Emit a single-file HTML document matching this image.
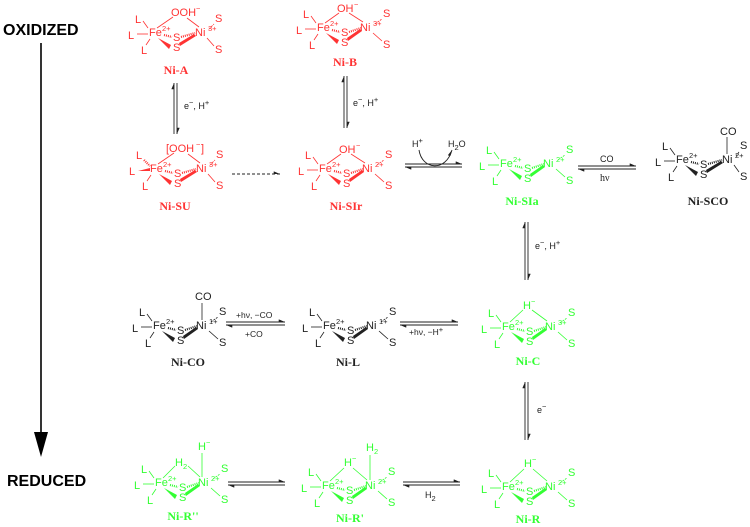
<!DOCTYPE html>
<html><head><meta charset="utf-8"><style>
html,body{margin:0;padding:0;background:#fff;}
svg{display:block;}
text{font-family:"Liberation Sans",sans-serif;font-size:11px;stroke:none;}
.sup{font-size:7.5px;}
.lbl{font-family:"Liberation Serif",serif;font-weight:bold;font-size:12px;text-anchor:middle;}
.t{fill:#222;font-size:9px;}
.h{stroke-dasharray:1 1;stroke-width:2.2;fill:none;}
.ln{stroke-width:0.8;fill:none;}
</style></head><body>
<svg width="750" height="527" viewBox="0 0 750 527" xmlns="http://www.w3.org/2000/svg">
<defs>
<marker id="ha" markerWidth="8" markerHeight="4" refX="7" refY="3" orient="auto"><path d="M0,0 L7,3 L0,3Z" fill="#222"/></marker>
</defs>

<text x="3" y="35" style="font-weight:bold;font-size:16px;fill:#000">OXIDIZED</text>
<text x="7" y="486" style="font-weight:bold;font-size:16px;fill:#000">REDUCED</text>
<line x1="41" y1="43" x2="41" y2="440" stroke="#000" stroke-width="1.6"/>
<path d="M34,432 L48,432 L41,457Z" fill="#000"/>

<!-- Ni-A -->
<g transform="translate(149,36)" fill="#ff3333" stroke="#ff3333">
<text x="-14" y="-13">L</text><line class="ln" x1="-6" y1="-15" x2="-1" y2="-8"/>
<text x="-21" y="3">L</text><line class="ln" x1="-12" y1="-2" x2="-1" y2="-2"/>
<text x="-8" y="18">L</text><line class="ln" x1="-3" y1="9" x2="1" y2="3"/>
<text x="0" y="0">Fe</text><text class="sup" x="13" y="-5">2+</text>
<polygon points="9,2 22,9 20,13" stroke="none"/>
<line class="h" x1="15" y1="-1" x2="23" y2="1"/>
<text x="24" y="5">S</text><text x="24" y="15">S</text>
<line class="h" x1="32" y1="1" x2="46" y2="-3"/>
<polygon points="31,10 47,0 45,-2 30,7" stroke="none"/>
<text x="46" y="0">Ni</text><text class="sup" x="59" y="-5">3+</text>
<text x="66" y="-14">S</text><line class="ln" x1="60" y1="-7" x2="65" y2="-12" stroke-dasharray="2 1"/>
<text x="66" y="17">S</text><line class="ln" x1="58" y1="2" x2="65" y2="10"/>
<text x="22" y="-20">OOH</text><text class="sup" x="47" y="-25">−</text>
<line class="ln" x1="8" y1="-8" x2="24" y2="-19"/><line class="ln" x1="38" y1="-18" x2="50" y2="-9"/>
<text class="lbl" x="27" y="38">Ni-A</text>
</g>

<!-- Ni-B -->
<g transform="translate(317,31)" fill="#ff3333" stroke="#ff3333">
<text x="-14" y="-13">L</text><line class="ln" x1="-6" y1="-15" x2="-1" y2="-8"/>
<text x="-21" y="3">L</text><line class="ln" x1="-12" y1="-2" x2="-1" y2="-2"/>
<text x="-8" y="18">L</text><line class="ln" x1="-3" y1="9" x2="1" y2="3"/>
<text x="0" y="0">Fe</text><text class="sup" x="13" y="-5">2+</text>
<polygon points="9,2 22,9 20,13" stroke="none"/>
<line class="h" x1="15" y1="-1" x2="23" y2="1"/>
<text x="24" y="5">S</text><text x="24" y="15">S</text>
<line class="h" x1="32" y1="1" x2="44" y2="-3"/>
<polygon points="31,10 45,0 43,-2 30,7" stroke="none"/>
<text x="43" y="0">Ni</text><text class="sup" x="56" y="-5">3+</text>
<text x="66" y="-14">S</text><line class="ln" x1="58" y1="-7" x2="65" y2="-12" stroke-dasharray="2 1"/>
<text x="66" y="17">S</text><line class="ln" x1="56" y1="2" x2="65" y2="10"/>
<text x="20" y="-19">OH</text><text class="sup" x="37" y="-24">−</text>
<line class="ln" x1="8" y1="-8" x2="22" y2="-18"/><line class="ln" x1="32" y1="-18" x2="46" y2="-9"/>
<text class="lbl" x="28" y="35">Ni-B</text>
</g>

<!-- Ni-SU -->
<g transform="translate(150,172)" fill="#ff3333" stroke="#ff3333">
<text x="-14" y="-13">L</text><line class="h" x1="-6" y1="-12" x2="0" y2="-6"/>
<text x="-21" y="3">L</text><polygon points="-12,-1 0,-4 0,-1" stroke="none"/>
<text x="-8" y="18">L</text><line class="ln" x1="-3" y1="9" x2="1" y2="3"/>
<text x="0" y="0">Fe</text><text class="sup" x="13" y="-5">2+</text>
<polygon points="9,2 22,9 20,13" stroke="none"/>
<line class="h" x1="15" y1="-1" x2="23" y2="1"/>
<text x="24" y="5">S</text><text x="24" y="15">S</text>
<line class="h" x1="32" y1="1" x2="46" y2="-3"/>
<polygon points="31,10 47,0 45,-2 30,7" stroke="none"/>
<text x="46" y="0">Ni</text><text class="sup" x="59" y="-5">3+</text>
<text x="66" y="-14">S</text><line class="ln" x1="60" y1="-7" x2="65" y2="-12" stroke-dasharray="2 1"/>
<text x="66" y="17">S</text><line class="ln" x1="58" y1="2" x2="65" y2="10"/>
<text x="16" y="-20">[OOH</text><text class="sup" x="46" y="-25">−</text><text x="51" y="-20">]</text>
<line class="ln" x1="8" y1="-8" x2="24" y2="-19"/><line class="ln" x1="38" y1="-18" x2="50" y2="-9"/>
<text class="lbl" x="25" y="38">Ni-SU</text>
</g>

<!-- Ni-SIr -->
<g transform="translate(319,172)" fill="#ff3333" stroke="#ff3333">
<text x="-14" y="-13">L</text><line class="ln" x1="-6" y1="-15" x2="-1" y2="-8"/>
<text x="-21" y="3">L</text><line class="ln" x1="-12" y1="-2" x2="-1" y2="-2"/>
<text x="-8" y="18">L</text><line class="ln" x1="-3" y1="9" x2="1" y2="3"/>
<text x="0" y="0">Fe</text><text class="sup" x="13" y="-5">2+</text>
<polygon points="9,2 22,9 20,13" stroke="none"/>
<line class="h" x1="15" y1="-1" x2="23" y2="1"/>
<text x="24" y="5">S</text><text x="24" y="15">S</text>
<line class="h" x1="32" y1="1" x2="44" y2="-3"/>
<polygon points="31,10 45,0 43,-2 30,7" stroke="none"/>
<text x="43" y="0">Ni</text><text class="sup" x="56" y="-5">2+</text>
<text x="66" y="-14">S</text><line class="ln" x1="58" y1="-7" x2="65" y2="-12" stroke-dasharray="2 1"/>
<text x="66" y="17">S</text><line class="ln" x1="56" y1="2" x2="65" y2="10"/>
<text x="20" y="-19">OH</text><text class="sup" x="37" y="-24">−</text>
<line class="ln" x1="8" y1="-8" x2="22" y2="-18"/><line class="ln" x1="32" y1="-18" x2="46" y2="-9"/>
<text class="lbl" x="27" y="38">Ni-SIr</text>
</g>

<!-- Ni-SIa -->
<g transform="translate(500,167)" fill="#33ff33" stroke="#33ff33">
<text x="-14" y="-13">L</text><line class="ln" x1="-6" y1="-15" x2="-1" y2="-8"/>
<text x="-21" y="3">L</text><line class="ln" x1="-12" y1="-2" x2="-1" y2="-2"/>
<text x="-8" y="18">L</text><line class="ln" x1="-3" y1="9" x2="1" y2="3"/>
<text x="0" y="0">Fe</text><text class="sup" x="13" y="-5">2+</text>
<polygon points="9,2 22,9 20,13" stroke="none"/>
<line class="h" x1="15" y1="-1" x2="23" y2="1"/>
<text x="24" y="5">S</text><text x="24" y="15">S</text>
<line class="h" x1="32" y1="1" x2="44" y2="-3"/>
<polygon points="31,10 45,0 43,-2 30,7" stroke="none"/>
<text x="43" y="0">Ni</text><text class="sup" x="56" y="-5">2+</text>
<text x="66" y="-14">S</text><line class="ln" x1="58" y1="-7" x2="65" y2="-12" stroke-dasharray="2 1"/>
<text x="66" y="17">S</text><line class="ln" x1="56" y1="2" x2="65" y2="10"/>
<text class="lbl" x="22" y="38">Ni-SIa</text>
</g>

<!-- Ni-SCO -->
<g transform="translate(676,163)" fill="#222" stroke="#222">
<text x="-14" y="-13">L</text><line class="ln" x1="-6" y1="-15" x2="-1" y2="-8"/>
<text x="-21" y="3">L</text><line class="ln" x1="-12" y1="-2" x2="-1" y2="-2"/>
<text x="-8" y="18">L</text><line class="ln" x1="-3" y1="9" x2="1" y2="3"/>
<text x="0" y="0">Fe</text><text class="sup" x="13" y="-5">2+</text>
<polygon points="9,2 22,9 20,13" stroke="none"/>
<line class="h" x1="15" y1="-1" x2="23" y2="1"/>
<text x="24" y="5">S</text><text x="24" y="15">S</text>
<line class="h" x1="32" y1="1" x2="46" y2="-3"/>
<polygon points="31,10 47,0 45,-2 30,7" stroke="none"/>
<text x="46" y="0">Ni</text><text class="sup" x="59" y="-5">2+</text>
<text x="64" y="-14">S</text><line class="ln" x1="60" y1="-7" x2="63" y2="-11" stroke-dasharray="2 1"/>
<text x="64" y="17">S</text><line class="ln" x1="58" y1="2" x2="63" y2="9"/>
<text x="44" y="-28">CO</text><line class="ln" x1="51" y1="-26" x2="51" y2="-9"/>
<text class="lbl" x="32" y="42">Ni-SCO</text>
</g>

<!-- Ni-CO -->
<g transform="translate(153,329)" fill="#222" stroke="#222">
<text x="-14" y="-13">L</text><line class="ln" x1="-6" y1="-15" x2="-1" y2="-8"/>
<text x="-21" y="3">L</text><line class="ln" x1="-12" y1="-2" x2="-1" y2="-2"/>
<text x="-8" y="18">L</text><line class="ln" x1="-3" y1="9" x2="1" y2="3"/>
<text x="0" y="0">Fe</text><text class="sup" x="13" y="-5">2+</text>
<polygon points="9,2 22,9 20,13" stroke="none"/>
<line class="h" x1="15" y1="-1" x2="23" y2="1"/>
<text x="24" y="5">S</text><text x="24" y="15">S</text>
<line class="h" x1="32" y1="1" x2="44" y2="-3"/>
<polygon points="31,10 45,0 43,-2 30,7" stroke="none"/>
<text x="43" y="0">Ni</text><text class="sup" x="56" y="-5">1+</text>
<text x="66" y="-14">S</text><line class="ln" x1="58" y1="-7" x2="65" y2="-12" stroke-dasharray="2 1"/>
<text x="66" y="17">S</text><line class="ln" x1="56" y1="2" x2="65" y2="10"/>
<text x="42" y="-29">CO</text><line class="ln" x1="49" y1="-26" x2="49" y2="-9"/>
<text class="lbl" x="35" y="37">Ni-CO</text>
</g>

<!-- Ni-L -->
<g transform="translate(323,329)" fill="#222" stroke="#222">
<text x="-14" y="-13">L</text><line class="ln" x1="-6" y1="-15" x2="-1" y2="-8"/>
<text x="-21" y="3">L</text><line class="ln" x1="-12" y1="-2" x2="-1" y2="-2"/>
<text x="-8" y="18">L</text><line class="ln" x1="-3" y1="9" x2="1" y2="3"/>
<text x="0" y="0">Fe</text><text class="sup" x="13" y="-5">2+</text>
<polygon points="9,2 22,9 20,13" stroke="none"/>
<line class="h" x1="15" y1="-1" x2="23" y2="1"/>
<text x="24" y="5">S</text><text x="24" y="15">S</text>
<line class="h" x1="32" y1="1" x2="44" y2="-3"/>
<polygon points="31,10 45,0 43,-2 30,7" stroke="none"/>
<text x="43" y="0">Ni</text><text class="sup" x="56" y="-5">1+</text>
<text x="66" y="-14">S</text><line class="ln" x1="58" y1="-7" x2="65" y2="-12" stroke-dasharray="2 1"/>
<text x="66" y="17">S</text><line class="ln" x1="56" y1="2" x2="65" y2="10"/>
<text class="lbl" x="25" y="37">Ni-L</text>
</g>

<!-- Ni-C -->
<g transform="translate(502,330)" fill="#33ff33" stroke="#33ff33">
<text x="-14" y="-13">L</text><line class="ln" x1="-6" y1="-15" x2="-1" y2="-8"/>
<text x="-21" y="3">L</text><line class="ln" x1="-12" y1="-2" x2="-1" y2="-2"/>
<text x="-8" y="18">L</text><line class="ln" x1="-3" y1="9" x2="1" y2="3"/>
<text x="0" y="0">Fe</text><text class="sup" x="13" y="-5">2+</text>
<polygon points="9,2 22,9 20,13" stroke="none"/>
<line class="h" x1="15" y1="-1" x2="23" y2="1"/>
<text x="24" y="5">S</text><text x="24" y="15">S</text>
<line class="h" x1="32" y1="1" x2="44" y2="-3"/>
<polygon points="31,10 45,0 43,-2 30,7" stroke="none"/>
<text x="43" y="0">Ni</text><text class="sup" x="56" y="-5">3+</text>
<text x="66" y="-14">S</text><line class="ln" x1="58" y1="-7" x2="65" y2="-12" stroke-dasharray="2 1"/>
<text x="66" y="17">S</text><line class="ln" x1="56" y1="2" x2="65" y2="10"/>
<text x="21" y="-21">H</text><text class="sup" x="29" y="-26">−</text>
<line class="ln" x1="8" y1="-8" x2="21" y2="-20"/><line class="ln" x1="30" y1="-20" x2="45" y2="-9"/>
<text class="lbl" x="26" y="35">Ni-C</text>
</g>

<!-- Ni-R'' -->
<g transform="translate(155,486)" fill="#33ff33" stroke="#33ff33">
<text x="-14" y="-13">L</text><line class="ln" x1="-6" y1="-15" x2="-1" y2="-8"/>
<text x="-21" y="3">L</text><line class="ln" x1="-12" y1="-2" x2="-1" y2="-2"/>
<text x="-8" y="18">L</text><line class="ln" x1="-3" y1="9" x2="1" y2="3"/>
<text x="0" y="0">Fe</text><text class="sup" x="13" y="-5">2+</text>
<polygon points="9,2 22,9 20,13" stroke="none"/>
<line class="h" x1="15" y1="-1" x2="23" y2="1"/>
<text x="24" y="5">S</text><text x="24" y="15">S</text>
<line class="h" x1="32" y1="1" x2="44" y2="-3"/>
<polygon points="31,10 45,0 43,-2 30,7" stroke="none"/>
<text x="43" y="0">Ni</text><text class="sup" x="56" y="-5">2+</text>
<text x="66" y="-14">S</text><line class="ln" x1="58" y1="-7" x2="65" y2="-12" stroke-dasharray="2 1"/>
<text x="66" y="17">S</text><line class="ln" x1="56" y1="2" x2="65" y2="10"/>
<text x="20" y="-20">H</text><text class="sup" x="28" y="-17">2</text>
<line class="ln" x1="8" y1="-8" x2="20" y2="-20"/><line class="ln" x1="33" y1="-20" x2="45" y2="-9"/>
<text x="43" y="-36">H</text><text class="sup" x="51" y="-41">−</text>
<line class="ln" x1="47" y1="-33" x2="47" y2="-9"/>
<text class="lbl" x="28" y="34">Ni-R''</text>
</g>

<!-- Ni-R' -->
<g transform="translate(322,489)" fill="#33ff33" stroke="#33ff33">
<text x="-14" y="-13">L</text><line class="ln" x1="-6" y1="-15" x2="-1" y2="-8"/>
<text x="-21" y="3">L</text><line class="ln" x1="-12" y1="-2" x2="-1" y2="-2"/>
<text x="-8" y="18">L</text><line class="ln" x1="-3" y1="9" x2="1" y2="3"/>
<text x="0" y="0">Fe</text><text class="sup" x="13" y="-5">2+</text>
<polygon points="9,2 22,9 20,13" stroke="none"/>
<line class="h" x1="15" y1="-1" x2="23" y2="1"/>
<text x="24" y="5">S</text><text x="24" y="15">S</text>
<line class="h" x1="32" y1="1" x2="44" y2="-3"/>
<polygon points="31,10 45,0 43,-2 30,7" stroke="none"/>
<text x="43" y="0">Ni</text><text class="sup" x="56" y="-5">2+</text>
<text x="66" y="-14">S</text><line class="ln" x1="58" y1="-7" x2="65" y2="-12" stroke-dasharray="2 1"/>
<text x="66" y="17">S</text><line class="ln" x1="56" y1="2" x2="65" y2="10"/>
<text x="22" y="-23">H</text><text class="sup" x="30" y="-28">−</text>
<line class="ln" x1="8" y1="-8" x2="22" y2="-21"/><line class="ln" x1="31" y1="-21" x2="45" y2="-9"/>
<text x="44" y="-38">H</text><text class="sup" x="52" y="-35">2</text>
<line class="ln" x1="48" y1="-34" x2="48" y2="-9"/>
<text class="lbl" x="28" y="33">Ni-R'</text>
</g>

<!-- Ni-R -->
<g transform="translate(502,490)" fill="#33ff33" stroke="#33ff33">
<text x="-14" y="-13">L</text><line class="ln" x1="-6" y1="-15" x2="-1" y2="-8"/>
<text x="-21" y="3">L</text><line class="ln" x1="-12" y1="-2" x2="-1" y2="-2"/>
<text x="-8" y="18">L</text><line class="ln" x1="-3" y1="9" x2="1" y2="3"/>
<text x="0" y="0">Fe</text><text class="sup" x="13" y="-5">2+</text>
<polygon points="9,2 22,9 20,13" stroke="none"/>
<line class="h" x1="15" y1="-1" x2="23" y2="1"/>
<text x="24" y="5">S</text><text x="24" y="15">S</text>
<line class="h" x1="32" y1="1" x2="44" y2="-3"/>
<polygon points="31,10 45,0 43,-2 30,7" stroke="none"/>
<text x="43" y="0">Ni</text><text class="sup" x="56" y="-5">2+</text>
<text x="66" y="-14">S</text><line class="ln" x1="58" y1="-7" x2="65" y2="-12" stroke-dasharray="2 1"/>
<text x="66" y="17">S</text><line class="ln" x1="56" y1="2" x2="65" y2="10"/>
<text x="22" y="-23">H</text><text class="sup" x="30" y="-28">−</text>
<line class="ln" x1="8" y1="-8" x2="22" y2="-21"/><line class="ln" x1="31" y1="-21" x2="45" y2="-9"/>
<text class="lbl" x="26" y="33">Ni-R</text>
</g>

<g stroke="#222" stroke-width="0.9" fill="none">
<line x1="174" y1="134" x2="174" y2="83" marker-end="url(#ha)"/>
<line x1="177" y1="83" x2="177" y2="134" marker-end="url(#ha)"/>
<line x1="344" y1="128" x2="344" y2="76" marker-end="url(#ha)"/>
<line x1="347" y1="76" x2="347" y2="128" marker-end="url(#ha)"/>
<line x1="525" y1="280" x2="525" y2="222" marker-end="url(#ha)"/>
<line x1="528" y1="222" x2="528" y2="280" marker-end="url(#ha)"/>
<line x1="525" y1="440" x2="525" y2="382" marker-end="url(#ha)"/>
<line x1="528" y1="382" x2="528" y2="440" marker-end="url(#ha)"/>
<line x1="232" y1="174" x2="280" y2="174" stroke-dasharray="3 2" marker-end="url(#ha)"/>
<line x1="405" y1="164" x2="462" y2="164" marker-end="url(#ha)"/>
<line x1="462" y1="167" x2="405" y2="167" marker-end="url(#ha)"/>
<path d="M419,150 C422,170 446,172 452,150" marker-end="url(#ha)"/>
<line x1="578" y1="166" x2="636" y2="166" marker-end="url(#ha)"/>
<line x1="636" y1="169" x2="578" y2="169" marker-end="url(#ha)"/>
<line x1="226" y1="322" x2="285" y2="322" marker-end="url(#ha)"/>
<line x1="285" y1="325" x2="226" y2="325" marker-end="url(#ha)"/>
<line x1="400" y1="322" x2="458" y2="322" marker-end="url(#ha)"/>
<line x1="458" y1="325" x2="400" y2="325" marker-end="url(#ha)"/>
<line x1="228" y1="482" x2="285" y2="482" marker-end="url(#ha)"/>
<line x1="285" y1="485" x2="228" y2="485" marker-end="url(#ha)"/>
<line x1="403" y1="482" x2="460" y2="482" marker-end="url(#ha)"/>
<line x1="460" y1="485" x2="403" y2="485" marker-end="url(#ha)"/>
</g>

<text class="t" x="184" y="109">e<tspan class="sup" dy="-4">−</tspan><tspan dy="4">, H</tspan><tspan class="sup" dy="-4">+</tspan></text>
<text class="t" x="353" y="106">e<tspan class="sup" dy="-4">−</tspan><tspan dy="4">, H</tspan><tspan class="sup" dy="-4">+</tspan></text>
<text class="t" x="535" y="249">e<tspan class="sup" dy="-4">−</tspan><tspan dy="4">, H</tspan><tspan class="sup" dy="-4">+</tspan></text>
<text class="t" x="537" y="413">e<tspan class="sup" dy="-4">−</tspan></text>
<text class="t" x="412" y="147">H<tspan class="sup" dy="-4">+</tspan></text>
<text class="t" x="448" y="147">H<tspan class="sup" dy="3">2</tspan><tspan dy="-3">O</tspan></text>
<text class="t" x="600" y="162">CO</text>
<text class="t" x="600" y="181" style="font-family:'Liberation Serif',serif;font-size:10px">hν</text>
<text class="t" x="236" y="318" style="font-size:8.5px">+hν, −CO</text>
<text class="t" x="245" y="337" style="font-size:8.5px">+CO</text>
<text class="t" x="409" y="335" style="font-size:8.5px">+hν, −H<tspan class="sup" dy="-3">+</tspan></text>
<text class="t" x="425" y="498">H<tspan class="sup" dy="3">2</tspan></text>
</svg>
</body></html>
